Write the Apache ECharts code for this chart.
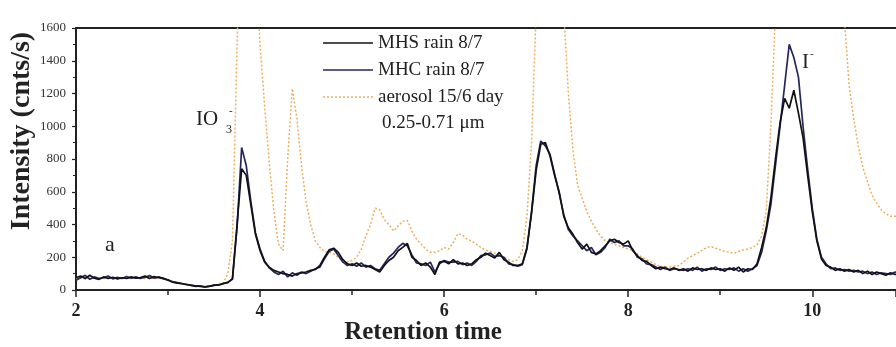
<!DOCTYPE html>
<html><head><meta charset="utf-8">
<script src="https://cdn.jsdelivr.net/npm/echarts@6/dist/echarts.min.js"></script>
<style>html,body{margin:0;padding:0;background:#fff}#c{width:896px;height:347px}</style>
</head><body><div id="c"></div>
<script>
const times = [2.00,2.05,2.10,2.15,2.20,2.25,2.30,2.35,2.40,2.45,2.50,2.55,2.60,2.65,2.70,2.75,2.80,2.85,2.90,2.95,
3.00,3.05,3.10,3.15,3.20,3.25,3.30,3.35,3.40,3.45,3.50,3.55,3.60,3.65,3.70,3.75,3.80,3.85,3.90,3.95,
4.00,4.05,4.10,4.15,4.20,4.25,4.30,4.35,4.40,4.45,4.50,4.55,4.60,4.65,4.70,4.75,4.80,4.85,4.90,4.95,
5.00,5.05,5.10,5.15,5.20,5.25,5.30,5.35,5.40,5.45,5.50,5.55,5.60,5.65,5.70,5.75,5.80,5.85,5.90,5.95,
6.00,6.05,6.10,6.15,6.20,6.25,6.30,6.35,6.40,6.45,6.50,6.55,6.60,6.65,6.70,6.75,6.80,6.85,6.90,6.95,
7.00,7.05,7.10,7.15,7.20,7.25,7.30,7.35,7.40,7.45,7.50,7.55,7.60,7.65,7.70,7.75,7.80,7.85,7.90,7.95,
8.00,8.05,8.10,8.15,8.20,8.25,8.30,8.35,8.40,8.45,8.50,8.55,8.60,8.65,8.70,8.75,8.80,8.85,8.90,8.95,
9.00,9.05,9.10,9.15,9.20,9.25,9.30,9.35,9.40,9.45,9.50,9.55,9.60,9.65,9.70,9.75,9.80,9.85,9.90,9.95,
10.00,10.05,10.10,10.15,10.20,10.25,10.30,10.35,10.40,10.45,10.50,10.55,10.60,10.65,10.70,10.75,10.80,10.85,10.90,10.95];

const mhsRain = [75,85,70,90,72,65,80,70,78,68,75,70,80,72,76,85,70,82,75,72,
60,50,45,38,35,28,25,22,20,24,28,32,40,45,70,400,740,700,520,340,
240,170,140,120,110,100,95,85,100,105,110,120,125,150,200,245,255,230,185,160,
150,165,145,150,140,125,110,150,180,200,240,260,285,200,180,150,165,140,95,170,
175,160,185,160,165,150,160,185,200,225,210,195,230,185,170,150,150,160,260,470,
730,890,900,820,700,600,450,380,340,290,250,280,230,220,240,270,300,310,290,280,
300,240,210,180,175,150,130,140,130,125,135,120,130,115,135,125,130,120,135,125,
130,115,135,120,140,110,130,125,160,260,380,560,800,1020,1170,1110,1220,1080,930,700,
480,300,190,150,140,120,130,115,125,110,120,100,115,95,110,100,90,105,95,100];

const mhcRain = [60,75,90,65,80,70,75,85,68,78,70,82,72,80,70,78,88,72,80,68,
62,48,42,40,32,30,22,25,18,22,30,30,38,48,65,380,870,760,540,350,
250,175,135,110,95,115,80,105,90,110,100,115,130,140,190,235,250,210,170,150,
160,145,165,140,150,130,120,160,200,225,260,285,270,215,165,160,150,170,110,160,
180,170,170,175,155,165,150,175,210,215,225,205,210,200,160,155,145,155,250,480,
760,910,880,830,710,590,460,370,330,300,270,240,260,215,230,260,310,290,300,270,
270,250,200,190,160,155,140,125,140,120,130,125,120,130,120,140,115,130,125,140,
120,130,125,135,115,130,115,130,150,230,360,520,760,1000,1250,1500,1420,1300,1000,740,
500,310,200,160,130,135,120,125,115,120,110,115,100,110,95,105,100,95,110,100];

const aerosol = [70,72,68,75,70,72,70,74,70,72,70,73,70,72,74,70,72,70,72,68,
60,50,42,36,32,28,24,22,22,24,28,32,45,100,300,1500,2500,2800,2600,2000,
1500,1120,780,480,280,240,800,1230,1050,760,540,400,300,260,235,230,220,200,180,170,
180,200,250,330,400,500,490,430,400,360,390,420,425,360,310,280,250,230,230,240,
260,250,290,345,335,310,300,280,260,245,235,225,215,200,185,175,185,240,450,900,
1700,2400,2700,2600,2300,2000,1700,1200,850,640,560,480,420,370,330,300,290,280,270,260,
250,240,220,200,185,170,155,145,140,140,145,150,170,195,210,225,240,260,265,255,
245,235,230,225,235,245,250,260,275,330,480,1000,1700,2400,2800,3000,3000,2900,2700,2500,
2300,2150,2000,1900,1800,1750,1700,1650,1250,1050,880,750,660,580,530,490,465,450,450,445];

const seriesNames = ['MHS rain 8/7', 'MHC rain 8/7', 'aerosol 15/6 day'];
const legendNote = '0.25-0.71 μm';
const xTicks = [2, 4, 6, 8, 10];
const yTicks = [0, 200, 400, 600, 800, 1000, 1200, 1400, 1600];

const colors = ['#111111', '#26265f', '#eab060'];
const pair = arr => times.map((t, i) => [t, arr[i]]);
const serif = '"Liberation Serif", "DejaVu Serif", serif';

// legend drawn as graphics
const legendRows = [43, 70, 97];
const legendGraphics = [];
seriesNames.forEach((n, i) => {
  legendGraphics.push({type: 'line', shape: {x1: 323, y1: legendRows[i], x2: 373, y2: legendRows[i]},
    style: {stroke: colors[i], lineWidth: i === 2 ? 1.5 : 1.6, lineDash: i === 2 ? [2, 2] : null}});
  legendGraphics.push({type: 'text', x: 378, y: legendRows[i],
    style: {text: n, font: '19px ' + serif, fill: '#222', verticalAlign: 'middle'}});
});
legendGraphics.push({type: 'text', x: 382, y: 123,
  style: {text: legendNote, font: '19px ' + serif, fill: '#222', verticalAlign: 'middle'}});

const chart = echarts.init(document.getElementById('c'), null, {renderer: 'canvas'});
chart.setOption({
  animation: false,
  backgroundColor: '#fff',
  grid: {left: 76, top: 28, right: 0, bottom: 57, containLabel: false},
  xAxis: [{
    type: 'value', min: 2, max: 10.91, interval: 2,
    axisLine: {show: true, onZero: false, lineStyle: {color: '#222', width: 2}},
    axisTick: {show: true, inside: false, length: 7, lineStyle: {color: '#222', width: 1.5}},
    minorTick: {show: true, splitNumber: 2, length: 5, lineStyle: {color: '#222', width: 1.5}},
    axisLabel: {fontFamily: serif, fontWeight: 'bold', fontSize: 18, color: '#222', margin: 12,
      showMaxLabel: false,
      formatter: v => xTicks.includes(v) ? String(v) : ''},
    splitLine: {show: false}
  }, {
    type: 'value', min: 2, max: 10.91, position: 'top',
    axisLine: {show: true, onZero: false, lineStyle: {color: '#222', width: 2}},
    axisTick: {show: false}, axisLabel: {show: false}, splitLine: {show: false}
  }],
  yAxis: {
    type: 'value', min: 0, max: 1600, interval: 200,
    axisLine: {show: true, onZero: false, lineStyle: {color: '#222', width: 2}},
    axisTick: {show: true, inside: false, length: 4, lineStyle: {color: '#222', width: 1.2}},
    minorTick: {show: true, splitNumber: 2, length: 3, lineStyle: {color: '#222', width: 1}},
    axisLabel: {fontFamily: serif, fontSize: 13, color: '#333', margin: 10,
      formatter: v => yTicks.includes(v) ? String(v) : ''},
    splitLine: {show: false}
  },
  series: [
    {name: seriesNames[0], type: 'line', data: pair(mhsRain), symbol: 'none', z: 4,
      lineStyle: {color: colors[0], width: 1.7}},
    {name: seriesNames[1], type: 'line', data: pair(mhcRain), symbol: 'none', z: 3,
      lineStyle: {color: colors[1], width: 1.7}},
    {name: seriesNames[2], type: 'line', data: pair(aerosol), symbol: 'none', z: 2,
      lineStyle: {color: colors[2], width: 1.5, type: [2, 2]}}
  ],
  graphic: legendGraphics.concat([
    {type: 'text', left: 105, top: 234, style: {text: 'a', font: '22px ' + serif, fill: '#222'}},
    {type: 'text', left: 196, top: 109, style: {text: 'IO', font: '21px ' + serif, fill: '#222'}},
    {type: 'text', left: 226, top: 124, style: {text: '3', font: '12px ' + serif, fill: '#222'}},
    {type: 'text', left: 229, top: 106, style: {text: '-', font: '11px ' + serif, fill: '#222'}},
    {type: 'text', left: 802, top: 52, style: {text: 'I', font: '21px ' + serif, fill: '#222'}},
    {type: 'text', left: 810, top: 49, style: {text: '-', font: '11px ' + serif, fill: '#222'}},
    {type: 'text', x: 423, y: 333, style: {text: 'Retention time', font: 'bold 25px ' + serif, fill: '#222', align: 'center', verticalAlign: 'middle'}},
    {type: 'text', x: 22, y: 131, rotation: Math.PI / 2, style: {text: 'Intensity (cnts/s)', font: 'bold 28px ' + serif, fill: '#222', align: 'center', verticalAlign: 'middle'}}
  ])
});
</script></body></html>
